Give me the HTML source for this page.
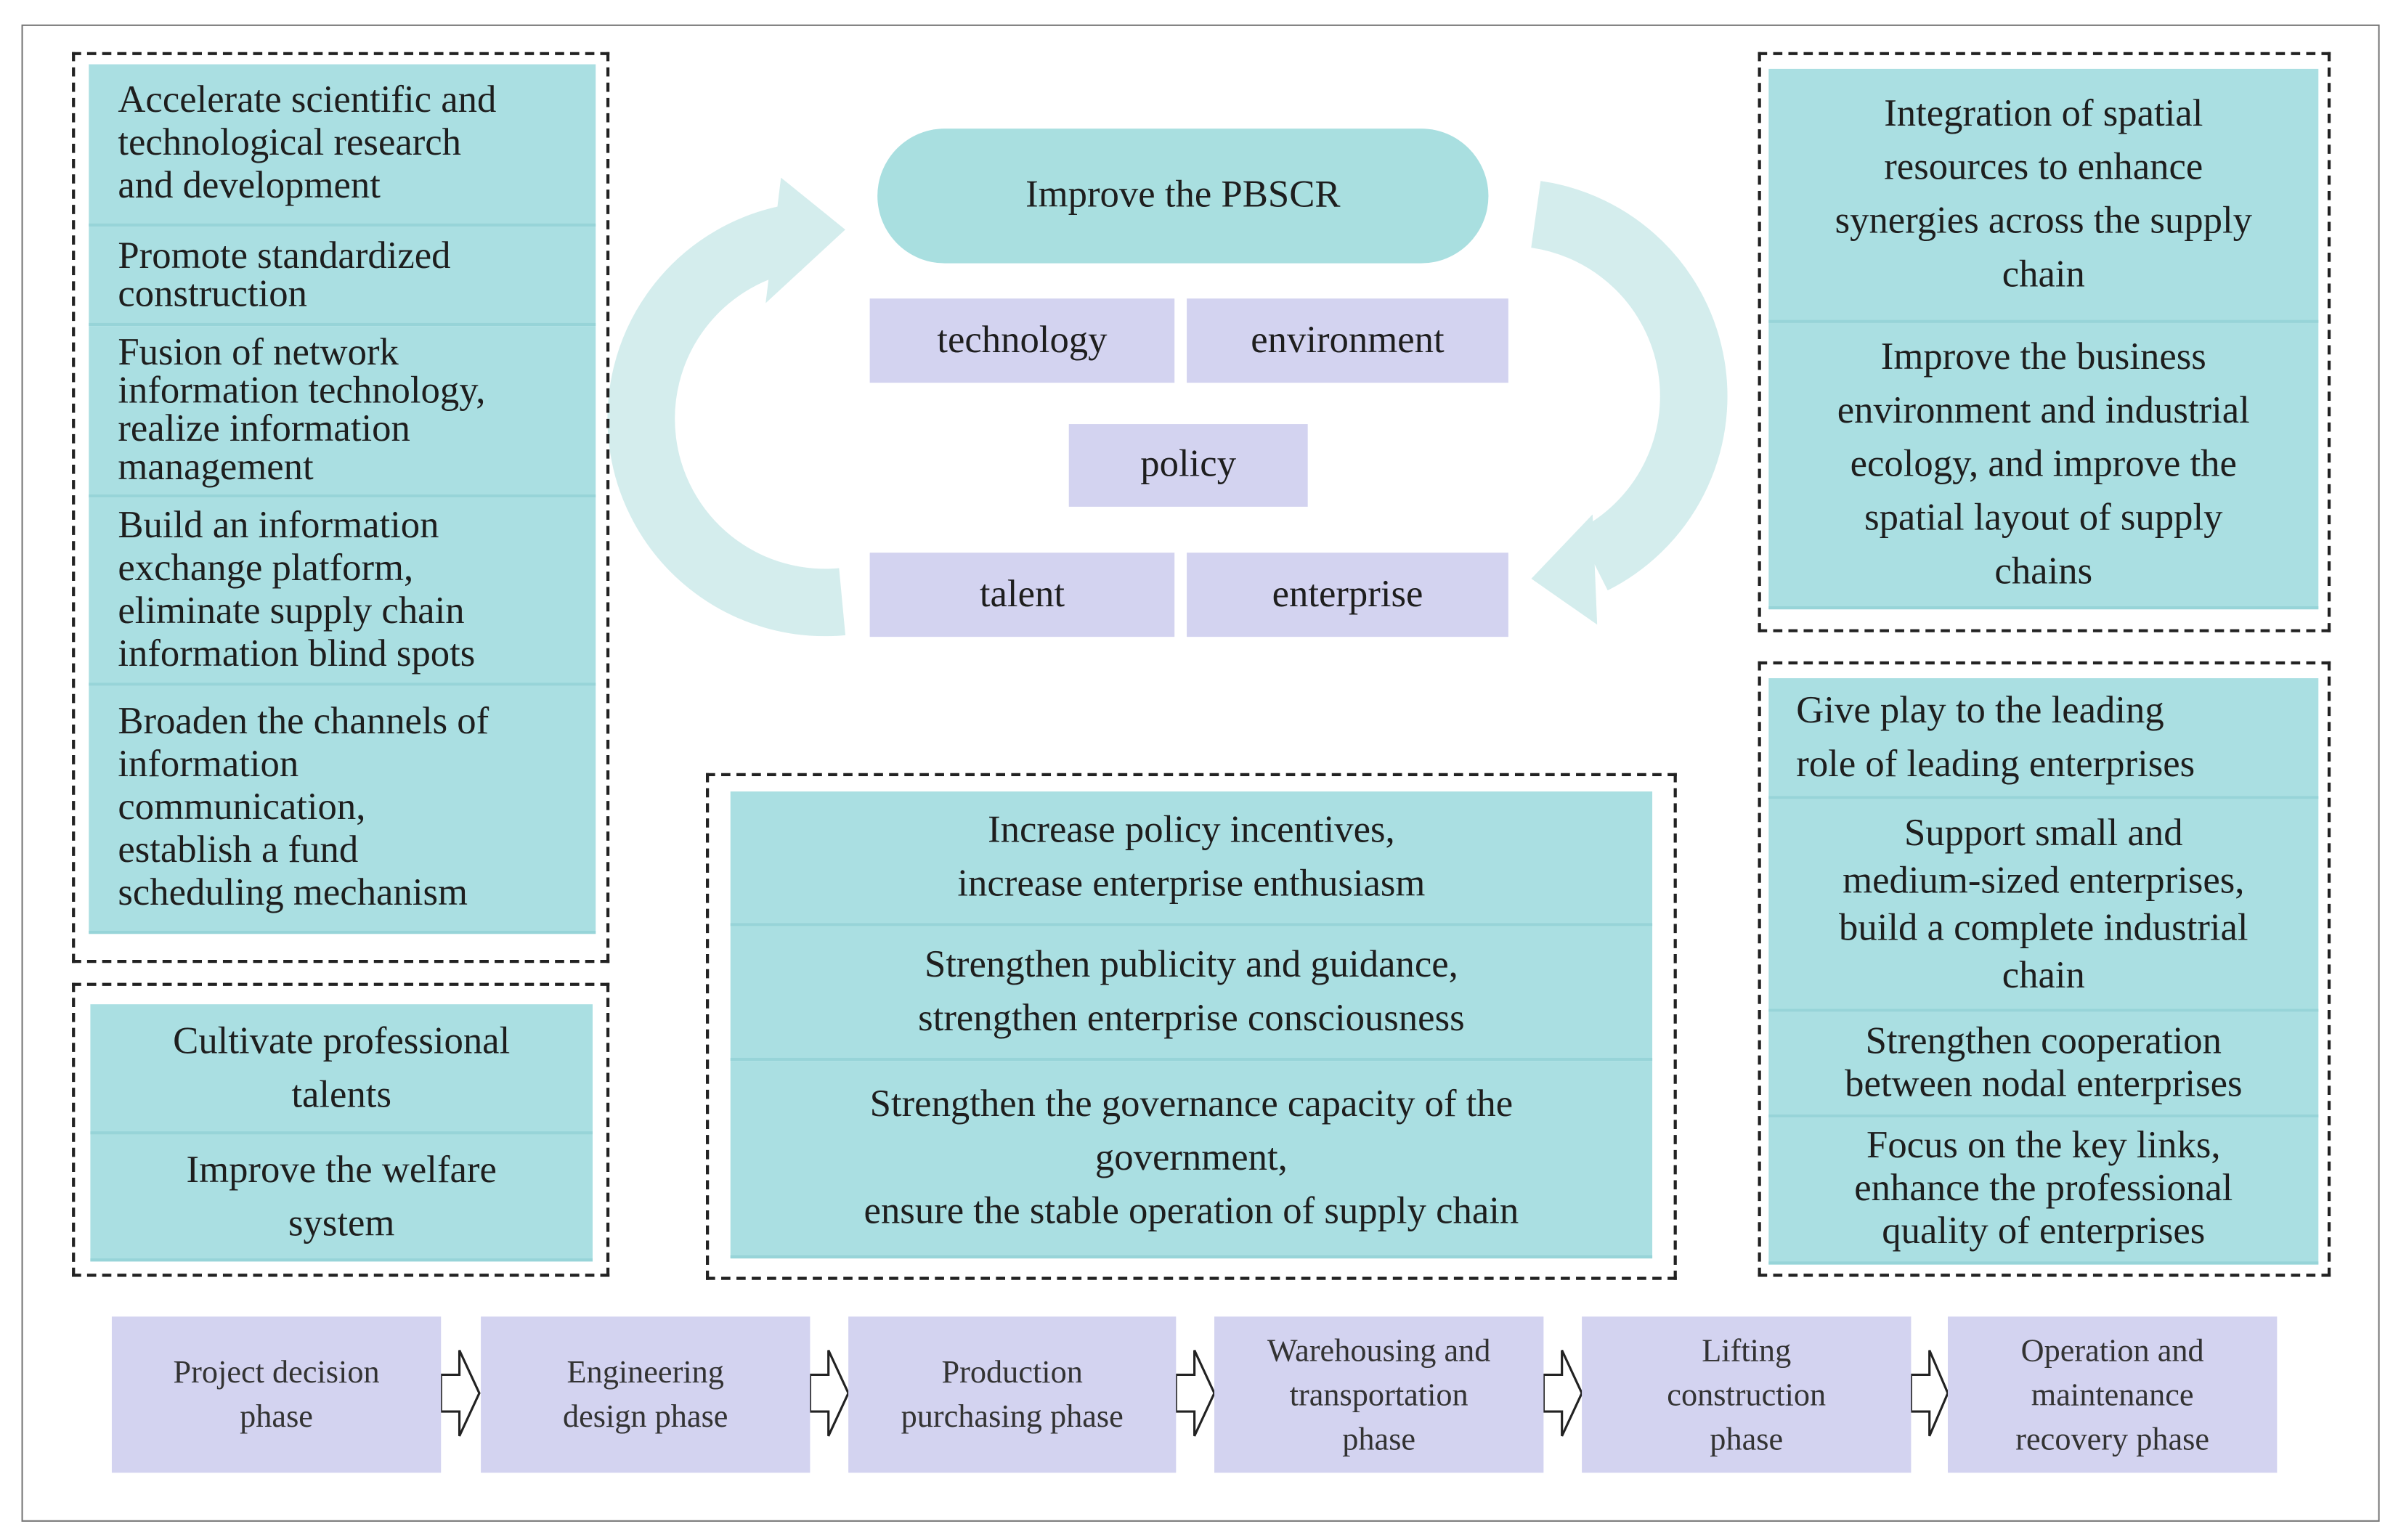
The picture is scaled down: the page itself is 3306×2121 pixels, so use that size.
<!DOCTYPE html>
<html><head><meta charset="utf-8"><style>
html,body{margin:0;padding:0;background:#fff;width:3306px;height:2121px;overflow:hidden}
#c{position:absolute;left:0;top:0;width:1568px;height:1006px;transform:scale(2.1085);transform-origin:0 0;font-family:"Liberation Serif",serif;color:#1e1e1e}
.a{position:absolute;box-sizing:border-box}
.frame{border:1.5px solid #777}
.dash{border:2px dashed #222}
.t{background:#aadfe2;border-bottom:2px solid #97d4d8;display:flex;align-items:center;font-size:25px;line-height:28px}
.L{justify-content:flex-start;padding-left:19px;text-align:left}
.C{justify-content:center;text-align:center}
.p{background:#d3d3f0;display:flex;align-items:center;justify-content:center;text-align:center;font-size:25px}
.ph{background:#d3d3f0;display:flex;align-items:center;justify-content:center;text-align:center;font-size:21px;line-height:29px;color:#333}
</style></head><body><div id="c">
<div class="a frame" style="left:14px;top:16px;width:1540px;height:978px"></div>

<svg class="a" style="left:0;top:0" width="1568" height="1006">
<path d="M550 393 A120 120 0 0 1 520 155" fill="none" stroke="#d4eded" stroke-width="44"/>
<polygon points="510,116 552,150 500,198" fill="#d4eded"/>
<path d="M1003 140 A120 120 0 0 1 1040 366" fill="none" stroke="#d4eded" stroke-width="44"/>
<polygon points="1040,336 1000,378 1043,408" fill="#d4eded"/>
<g fill="#fff" stroke="#222" stroke-width="1.5">
<polygon points="288,898 300,898 300,882 313,910 300,938 300,922 288,922"/>
<polygon points="529,898 541,898 541,882 554,910 541,938 541,922 529,922"/>
<polygon points="768,898 780,898 780,882 793,910 780,938 780,922 768,922"/>
<polygon points="1008,898 1020,898 1020,882 1033,910 1020,938 1020,922 1008,922"/>
<polygon points="1248,898 1260,898 1260,882 1272,910 1260,938 1260,922 1248,922"/>
</g>
</svg>

<!-- left box 1 -->
<div class="a dash" style="left:47px;top:34px;width:351px;height:595px"></div>
<div class="a t L" style="left:58px;top:42px;width:331px;height:106px">Accelerate scientific and<br>technological research<br>and development</div>
<div class="a t L" style="left:58px;top:148px;width:331px;height:65px;line-height:25px">Promote standardized<br>construction</div>
<div class="a t L" style="left:58px;top:213px;width:331px;height:112px;line-height:25px">Fusion of network<br>information technology,<br>realize information<br>management</div>
<div class="a t L" style="left:58px;top:325px;width:331px;height:123px">Build an information<br>exchange platform,<br>eliminate supply chain<br>information blind spots</div>
<div class="a t L" style="left:58px;top:448px;width:331px;height:162px">Broaden the channels of<br>information<br>communication,<br>establish a fund<br>scheduling mechanism</div>

<!-- left box 2 -->
<div class="a dash" style="left:47px;top:642px;width:351px;height:192px"></div>
<div class="a t C" style="left:59px;top:656px;width:328px;height:85px;line-height:35px">Cultivate professional<br>talents</div>
<div class="a t C" style="left:59px;top:741px;width:328px;height:83px;line-height:35px">Improve the welfare<br>system</div>

<!-- center top -->
<div class="a p" style="left:573px;top:84px;width:399px;height:88px;border-radius:44px;background:#a9dfe0">Improve the PBSCR</div>
<div class="a p" style="left:568px;top:195px;width:199px;height:55px">technology</div>
<div class="a p" style="left:775px;top:195px;width:210px;height:55px">environment</div>
<div class="a p" style="left:698px;top:277px;width:156px;height:54px">policy</div>
<div class="a p" style="left:568px;top:361px;width:199px;height:55px">talent</div>
<div class="a p" style="left:775px;top:361px;width:210px;height:55px">enterprise</div>

<!-- center box -->
<div class="a dash" style="left:461px;top:505px;width:634px;height:331px"></div>
<div class="a t C" style="left:477px;top:517px;width:602px;height:88px;line-height:35px">Increase policy incentives,<br>increase enterprise enthusiasm</div>
<div class="a t C" style="left:477px;top:605px;width:602px;height:88px;line-height:35px">Strengthen publicity and guidance,<br>strengthen enterprise consciousness</div>
<div class="a t C" style="left:477px;top:693px;width:602px;height:129px;line-height:35px">Strengthen the governance capacity of the<br>government,<br>ensure the stable operation of supply chain</div>

<!-- right box 1 -->
<div class="a dash" style="left:1148px;top:34px;width:374px;height:379px"></div>
<div class="a t C" style="left:1155px;top:45px;width:359px;height:166px;line-height:35px">Integration of spatial<br>resources to enhance<br>synergies across the supply<br>chain</div>
<div class="a t C" style="left:1155px;top:211px;width:359px;height:187px;line-height:35px">Improve the business<br>environment and industrial<br>ecology, and improve the<br>spatial layout of supply<br>chains</div>

<!-- right box 2 -->
<div class="a dash" style="left:1148px;top:432px;width:374px;height:402px"></div>
<div class="a t L" style="left:1155px;top:443px;width:359px;height:79px;padding-left:18px;line-height:35px">Give play to the leading<br>role of leading enterprises</div>
<div class="a t C" style="left:1155px;top:522px;width:359px;height:139px;line-height:31px">Support small and<br>medium-sized enterprises,<br>build a complete industrial<br>chain</div>
<div class="a t C" style="left:1155px;top:661px;width:359px;height:69px">Strengthen cooperation<br>between nodal enterprises</div>
<div class="a t C" style="left:1155px;top:730px;width:359px;height:96px">Focus on the key links,<br>enhance the professional<br>quality of enterprises</div>

<!-- phases -->
<div class="a ph" style="left:73px;top:860px;width:215px;height:102px">Project decision<br>phase</div>
<div class="a ph" style="left:314px;top:860px;width:215px;height:102px">Engineering<br>design phase</div>
<div class="a ph" style="left:554px;top:860px;width:214px;height:102px">Production<br>purchasing phase</div>
<div class="a ph" style="left:793px;top:860px;width:215px;height:102px">Warehousing and<br>transportation<br>phase</div>
<div class="a ph" style="left:1033px;top:860px;width:215px;height:102px">Lifting<br>construction<br>phase</div>
<div class="a ph" style="left:1272px;top:860px;width:215px;height:102px">Operation and<br>maintenance<br>recovery phase</div>
</div></body></html>
